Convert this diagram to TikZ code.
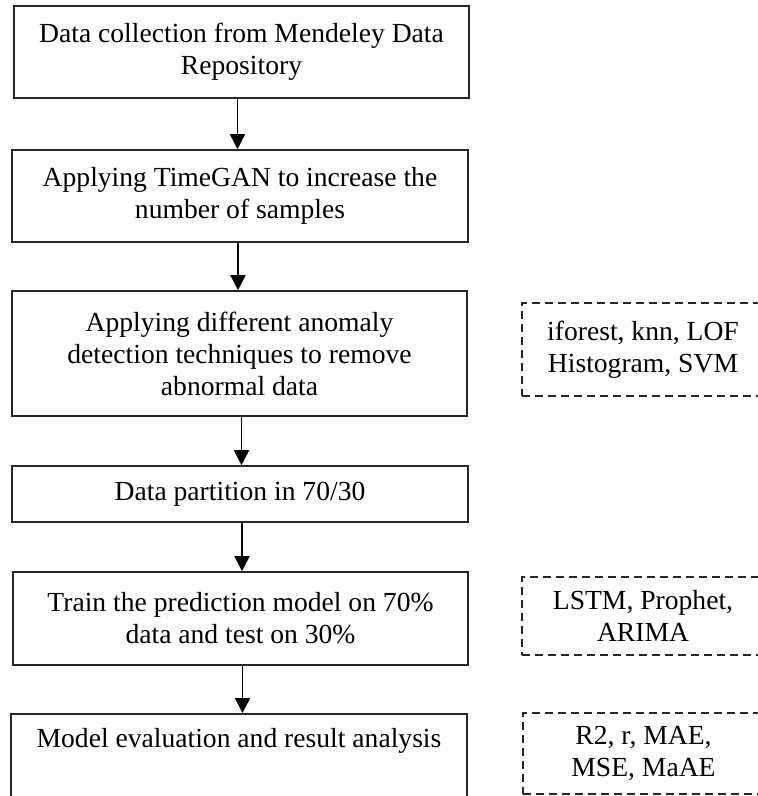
\documentclass[tikz,border=0pt]{standalone}
\usepackage{fontspec}
\setmainfont{Liberation Serif}
\usetikzlibrary{arrows.meta}

\tikzset{
  flowtext/.style={font=\fontsize{27.6pt}{32pt}\selectfont, align=center, text=black},
  stepbox/.style={flowtext, draw=black!85, line width=1.6pt, inner sep=0pt},
  methodbox/.style={flowtext, draw=black!85, line width=1.6pt, inner sep=0pt,
    dash pattern=on 8pt off 5pt},
  flowarrow/.style={draw=black, line width=1.6pt,
    -{Triangle[length=15pt,width=15pt]}}
}

\begin{document}
\begin{tikzpicture}[x=1pt, y=-1pt]
  % page frame
  \clip (0,0) rectangle (758,796);
  \fill[white] (0,0) rectangle (758,796);

  % main pipeline
  \node[stepbox, minimum width=455pt, minimum height=92pt] (collect) at (241.5,52)
    {Data collection from Mendeley Data\\Repository};
  \node[stepbox, minimum width=456pt, minimum height=92pt] (timegan) at (240,196)
    {Applying TimeGAN to increase the\\number of samples};
  \node[stepbox, minimum width=455pt, minimum height=125pt] (anomaly) at (239.5,353.5)
    {Applying different anomaly\\detection techniques to remove\\abnormal data};
  \node[stepbox, minimum width=456pt, minimum height=56pt] (split) at (240,494)
    {Data partition in 70/30};
  \node[stepbox, minimum width=455pt, minimum height=93pt] (train) at (240.5,618.5)
    {Train the prediction model on 70\%\\data and test on 30\%};
  \node[stepbox, anchor=north, minimum width=456pt, inner ysep=14pt,
        text height=20pt, text depth=80pt] (evaluate) at (239,713)
    {Model evaluation and result analysis};

  % methods used at each stage
  \node[methodbox, minimum width=242pt, minimum height=93pt] (detectors) at (643,349.5)
    {iforest, knn, LOF\\Histogram, SVM};
  \node[methodbox, minimum width=242pt, minimum height=78pt] (models) at (643,616)
    {LSTM, Prophet,\\ARIMA};
  \node[methodbox, minimum width=241pt, minimum height=81pt] (metrics) at (643.5,753.5)
    {R2, r, MAE,\\MSE, MaAE};

  % connectors, kept vertical below each source box
  \draw[flowarrow] ([xshift=-4pt]collect.south) -- ([xshift=-4pt]collect.south |- timegan.north);
  \draw[flowarrow] ([xshift=-2pt]timegan.south) -- ([xshift=-2pt]timegan.south |- anomaly.north);
  \draw[flowarrow] ([xshift=2pt]anomaly.south) -- ([xshift=2pt]anomaly.south |- split.north);
  \draw[flowarrow] ([xshift=2pt]split.south) -- ([xshift=2pt]split.south |- train.north);
  \draw[flowarrow] ([xshift=2pt]train.south) -- ([xshift=2pt]train.south |- evaluate.north);
\end{tikzpicture}
\end{document}
